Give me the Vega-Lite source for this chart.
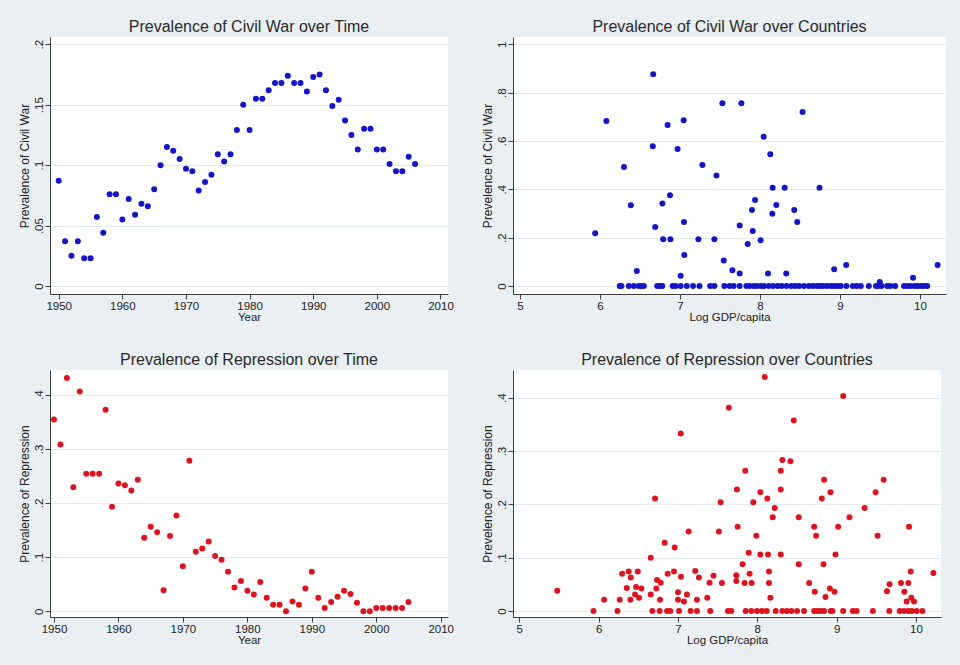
{
  "$schema": "https://vega.github.io/schema/vega-lite/v6.json",
  "background": "#e9eff2",
  "padding": {"left": 18, "top": 19, "right": 14, "bottom": 19},
  "bounds": "flush",
  "align": "each",
  "columns": 2,
  "spacing": {"row": 76, "column": 65},
  "config": {
    "font": "Liberation Sans",
    "view": {"stroke": null, "fill": "white"},
    "title": {"fontSize": 16, "fontWeight": "normal", "color": "#2a2a2a", "offset": 2, "anchor": "middle", "frame": "group"},
    "axis": {"domainColor": "#404040", "tickColor": "#404040", "tickSize": 5, "labelFontSize": 11.5, "labelColor": "#222222", "titleFontSize": 11.5, "titleFontWeight": "normal", "titleColor": "#222222", "grid": false, "labelFlush": false, "labelOverlap": false},
    "axisY": {"grid": true, "gridColor": "#e4ecef", "gridWidth": 1.2, "labelAngle": -90, "labelPadding": 1, "titlePadding": 2, "titleFontSize": 12},
    "axisX": {"labelPadding": 1, "titlePadding": 0}
  },
  "datasets": {
    "cwTime": [
      {"year": 1950, "cw": 0.087}, {"year": 1951, "cw": 0.037}, {"year": 1952, "cw": 0.025}, {"year": 1953, "cw": 0.037},
      {"year": 1954, "cw": 0.023}, {"year": 1955, "cw": 0.023}, {"year": 1956, "cw": 0.057}, {"year": 1957, "cw": 0.044},
      {"year": 1958, "cw": 0.076}, {"year": 1959, "cw": 0.076}, {"year": 1960, "cw": 0.055}, {"year": 1961, "cw": 0.072},
      {"year": 1962, "cw": 0.059}, {"year": 1963, "cw": 0.068}, {"year": 1964, "cw": 0.066}, {"year": 1965, "cw": 0.080},
      {"year": 1966, "cw": 0.100}, {"year": 1967, "cw": 0.115}, {"year": 1968, "cw": 0.112}, {"year": 1969, "cw": 0.105},
      {"year": 1970, "cw": 0.097}, {"year": 1971, "cw": 0.095}, {"year": 1972, "cw": 0.079}, {"year": 1973, "cw": 0.086},
      {"year": 1974, "cw": 0.092}, {"year": 1975, "cw": 0.109}, {"year": 1976, "cw": 0.103}, {"year": 1977, "cw": 0.109},
      {"year": 1978, "cw": 0.129}, {"year": 1979, "cw": 0.150}, {"year": 1980, "cw": 0.129}, {"year": 1981, "cw": 0.155},
      {"year": 1982, "cw": 0.155}, {"year": 1983, "cw": 0.162}, {"year": 1984, "cw": 0.168}, {"year": 1985, "cw": 0.168},
      {"year": 1986, "cw": 0.174}, {"year": 1987, "cw": 0.168}, {"year": 1988, "cw": 0.168}, {"year": 1989, "cw": 0.161},
      {"year": 1990, "cw": 0.173}, {"year": 1991, "cw": 0.175}, {"year": 1992, "cw": 0.162}, {"year": 1993, "cw": 0.149},
      {"year": 1994, "cw": 0.154}, {"year": 1995, "cw": 0.137}, {"year": 1996, "cw": 0.125}, {"year": 1997, "cw": 0.113},
      {"year": 1998, "cw": 0.130}, {"year": 1999, "cw": 0.130}, {"year": 2000, "cw": 0.113}, {"year": 2001, "cw": 0.113},
      {"year": 2002, "cw": 0.101}, {"year": 2003, "cw": 0.095}, {"year": 2004, "cw": 0.095}, {"year": 2005, "cw": 0.107},
      {"year": 2006, "cw": 0.101}
    ],
    "repTime": [
      {"year": 1950, "rep": 0.354}, {"year": 1951, "rep": 0.308}, {"year": 1952, "rep": 0.431}, {"year": 1953, "rep": 0.229},
      {"year": 1954, "rep": 0.406}, {"year": 1955, "rep": 0.254}, {"year": 1956, "rep": 0.254}, {"year": 1957, "rep": 0.254},
      {"year": 1958, "rep": 0.372}, {"year": 1959, "rep": 0.193}, {"year": 1960, "rep": 0.236}, {"year": 1961, "rep": 0.233},
      {"year": 1962, "rep": 0.223}, {"year": 1963, "rep": 0.243}, {"year": 1964, "rep": 0.136}, {"year": 1965, "rep": 0.156},
      {"year": 1966, "rep": 0.146}, {"year": 1967, "rep": 0.039}, {"year": 1968, "rep": 0.139}, {"year": 1969, "rep": 0.177},
      {"year": 1970, "rep": 0.083}, {"year": 1971, "rep": 0.278}, {"year": 1972, "rep": 0.110}, {"year": 1973, "rep": 0.116},
      {"year": 1974, "rep": 0.129}, {"year": 1975, "rep": 0.102}, {"year": 1976, "rep": 0.095}, {"year": 1977, "rep": 0.073},
      {"year": 1978, "rep": 0.044}, {"year": 1979, "rep": 0.056}, {"year": 1980, "rep": 0.038}, {"year": 1981, "rep": 0.031},
      {"year": 1982, "rep": 0.054}, {"year": 1983, "rep": 0.025}, {"year": 1984, "rep": 0.012}, {"year": 1985, "rep": 0.012},
      {"year": 1986, "rep": 0.000}, {"year": 1987, "rep": 0.018}, {"year": 1988, "rep": 0.012}, {"year": 1989, "rep": 0.042},
      {"year": 1990, "rep": 0.073}, {"year": 1991, "rep": 0.025}, {"year": 1992, "rep": 0.006}, {"year": 1993, "rep": 0.017},
      {"year": 1994, "rep": 0.027}, {"year": 1995, "rep": 0.038}, {"year": 1996, "rep": 0.032}, {"year": 1997, "rep": 0.016},
      {"year": 1998, "rep": 0.000}, {"year": 1999, "rep": 0.000}, {"year": 2000, "rep": 0.006}, {"year": 2001, "rep": 0.006},
      {"year": 2002, "rep": 0.006}, {"year": 2003, "rep": 0.006}, {"year": 2004, "rep": 0.006}, {"year": 2005, "rep": 0.017}
    ],
    "cwCountry": [
      {"gdp": 5.94, "cw": 0.218}, {"gdp": 6.08, "cw": 0.683}, {"gdp": 6.30, "cw": 0.492}, {"gdp": 6.385, "cw": 0.334},
      {"gdp": 6.46, "cw": 0.062}, {"gdp": 6.66, "cw": 0.578}, {"gdp": 6.665, "cw": 0.876}, {"gdp": 6.69, "cw": 0.244},
      {"gdp": 6.78, "cw": 0.341}, {"gdp": 6.79, "cw": 0.193}, {"gdp": 6.875, "cw": 0.375}, {"gdp": 6.88, "cw": 0.193},
      {"gdp": 6.845, "cw": 0.666}, {"gdp": 6.97, "cw": 0.567}, {"gdp": 7.046, "cw": 0.686}, {"gdp": 7.05, "cw": 0.265},
      {"gdp": 7.054, "cw": 0.128}, {"gdp": 7.008, "cw": 0.043}, {"gdp": 7.28, "cw": 0.501}, {"gdp": 7.23, "cw": 0.193},
      {"gdp": 7.455, "cw": 0.457}, {"gdp": 7.43, "cw": 0.193}, {"gdp": 7.53, "cw": 0.756}, {"gdp": 7.767, "cw": 0.756},
      {"gdp": 8.532, "cw": 0.72}, {"gdp": 8.046, "cw": 0.617}, {"gdp": 8.129, "cw": 0.545}, {"gdp": 8.158, "cw": 0.406},
      {"gdp": 8.308, "cw": 0.406}, {"gdp": 8.744, "cw": 0.406}, {"gdp": 7.938, "cw": 0.356}, {"gdp": 7.9, "cw": 0.314},
      {"gdp": 8.204, "cw": 0.335}, {"gdp": 8.154, "cw": 0.299}, {"gdp": 8.428, "cw": 0.314}, {"gdp": 8.466, "cw": 0.265},
      {"gdp": 7.746, "cw": 0.25}, {"gdp": 7.909, "cw": 0.228}, {"gdp": 8.008, "cw": 0.189}, {"gdp": 7.846, "cw": 0.174},
      {"gdp": 7.547, "cw": 0.106}, {"gdp": 7.655, "cw": 0.065}, {"gdp": 7.746, "cw": 0.052}, {"gdp": 8.1, "cw": 0.052},
      {"gdp": 8.328, "cw": 0.052}, {"gdp": 8.927, "cw": 0.069}, {"gdp": 9.077, "cw": 0.087}, {"gdp": 9.497, "cw": 0.017},
      {"gdp": 9.913, "cw": 0.034}, {"gdp": 10.22, "cw": 0.087},
      {"gdp": 6.247, "cw": 0}, {"gdp": 6.268, "cw": 0}, {"gdp": 6.36, "cw": 0}, {"gdp": 6.423, "cw": 0}, {"gdp": 6.485, "cw": 0},
      {"gdp": 6.51, "cw": 0}, {"gdp": 6.548, "cw": 0}, {"gdp": 6.715, "cw": 0}, {"gdp": 6.749, "cw": 0}, {"gdp": 6.778, "cw": 0},
      {"gdp": 6.908, "cw": 0}, {"gdp": 6.946, "cw": 0}, {"gdp": 7.008, "cw": 0}, {"gdp": 7.084, "cw": 0}, {"gdp": 7.163, "cw": 0},
      {"gdp": 7.243, "cw": 0}, {"gdp": 7.377, "cw": 0}, {"gdp": 7.43, "cw": 0}, {"gdp": 7.555, "cw": 0}, {"gdp": 7.62, "cw": 0},
      {"gdp": 7.67, "cw": 0}, {"gdp": 7.746, "cw": 0}, {"gdp": 7.83, "cw": 0}, {"gdp": 7.87, "cw": 0}, {"gdp": 7.92, "cw": 0},
      {"gdp": 7.96, "cw": 0}, {"gdp": 8.01, "cw": 0}, {"gdp": 8.05, "cw": 0}, {"gdp": 8.11, "cw": 0}, {"gdp": 8.16, "cw": 0},
      {"gdp": 8.22, "cw": 0}, {"gdp": 8.27, "cw": 0}, {"gdp": 8.33, "cw": 0}, {"gdp": 8.39, "cw": 0}, {"gdp": 8.44, "cw": 0},
      {"gdp": 8.49, "cw": 0}, {"gdp": 8.55, "cw": 0}, {"gdp": 8.61, "cw": 0}, {"gdp": 8.66, "cw": 0}, {"gdp": 8.71, "cw": 0},
      {"gdp": 8.75, "cw": 0}, {"gdp": 8.79, "cw": 0}, {"gdp": 8.84, "cw": 0}, {"gdp": 8.89, "cw": 0}, {"gdp": 8.93, "cw": 0},
      {"gdp": 8.97, "cw": 0}, {"gdp": 9.01, "cw": 0}, {"gdp": 9.08, "cw": 0}, {"gdp": 9.16, "cw": 0}, {"gdp": 9.21, "cw": 0},
      {"gdp": 9.26, "cw": 0}, {"gdp": 9.36, "cw": 0}, {"gdp": 9.45, "cw": 0}, {"gdp": 9.48, "cw": 0}, {"gdp": 9.52, "cw": 0},
      {"gdp": 9.59, "cw": 0}, {"gdp": 9.63, "cw": 0}, {"gdp": 9.69, "cw": 0}, {"gdp": 9.8, "cw": 0}, {"gdp": 9.84, "cw": 0},
      {"gdp": 9.88, "cw": 0}, {"gdp": 9.93, "cw": 0}, {"gdp": 9.97, "cw": 0}, {"gdp": 10.01, "cw": 0}, {"gdp": 10.05, "cw": 0},
      {"gdp": 10.09, "cw": 0}
    ],
    "repCountry": [
      {"gdp": 5.478, "rep": 0.038}, {"gdp": 5.935, "rep": 0}, {"gdp": 6.069, "rep": 0.021}, {"gdp": 6.237, "rep": 0},
      {"gdp": 6.266, "rep": 0.021}, {"gdp": 6.296, "rep": 0.07}, {"gdp": 6.354, "rep": 0.043}, {"gdp": 6.379, "rep": 0.074},
      {"gdp": 6.405, "rep": 0.063}, {"gdp": 6.4, "rep": 0.021}, {"gdp": 6.459, "rep": 0.031}, {"gdp": 6.472, "rep": 0.045},
      {"gdp": 6.493, "rep": 0.074}, {"gdp": 6.509, "rep": 0.025}, {"gdp": 6.539, "rep": 0.042}, {"gdp": 6.656, "rep": 0.1},
      {"gdp": 6.656, "rep": 0.031}, {"gdp": 6.677, "rep": 0}, {"gdp": 6.711, "rep": 0.211}, {"gdp": 6.727, "rep": 0.042},
      {"gdp": 6.736, "rep": 0.058}, {"gdp": 6.769, "rep": 0}, {"gdp": 6.774, "rep": 0.021}, {"gdp": 6.782, "rep": 0.053},
      {"gdp": 6.832, "rep": 0.128}, {"gdp": 6.862, "rep": 0}, {"gdp": 6.87, "rep": 0.07}, {"gdp": 6.904, "rep": 0},
      {"gdp": 6.95, "rep": 0.074}, {"gdp": 6.958, "rep": 0.119}, {"gdp": 7.0, "rep": 0.035}, {"gdp": 7.0, "rep": 0.021},
      {"gdp": 7.013, "rep": 0}, {"gdp": 7.034, "rep": 0.333}, {"gdp": 7.038, "rep": 0.064}, {"gdp": 7.075, "rep": 0.018},
      {"gdp": 7.113, "rep": 0.031}, {"gdp": 7.134, "rep": 0.149}, {"gdp": 7.159, "rep": 0}, {"gdp": 7.218, "rep": 0.075},
      {"gdp": 7.239, "rep": 0}, {"gdp": 7.239, "rep": 0.021}, {"gdp": 7.264, "rep": 0.063}, {"gdp": 7.369, "rep": 0.025},
      {"gdp": 7.398, "rep": 0.053}, {"gdp": 7.407, "rep": 0}, {"gdp": 7.448, "rep": 0.066}, {"gdp": 7.516, "rep": 0.149},
      {"gdp": 7.537, "rep": 0.204}, {"gdp": 7.554, "rep": 0.0525}, {"gdp": 7.629, "rep": 0}, {"gdp": 7.642, "rep": 0.381},
      {"gdp": 7.672, "rep": 0}, {"gdp": 7.735, "rep": 0.056}, {"gdp": 7.735, "rep": 0.067}, {"gdp": 7.743, "rep": 0.228},
      {"gdp": 7.752, "rep": 0.158}, {"gdp": 7.815, "rep": 0.0875}, {"gdp": 7.848, "rep": 0.263}, {"gdp": 7.84, "rep": 0.0525},
      {"gdp": 7.853, "rep": 0}, {"gdp": 7.891, "rep": 0.109}, {"gdp": 7.903, "rep": 0.07}, {"gdp": 7.928, "rep": 0.0525},
      {"gdp": 7.924, "rep": 0}, {"gdp": 7.949, "rep": 0.204}, {"gdp": 7.987, "rep": 0.141}, {"gdp": 7.996, "rep": 0},
      {"gdp": 8.038, "rep": 0.106}, {"gdp": 8.038, "rep": 0.2225}, {"gdp": 8.059, "rep": 0}, {"gdp": 8.093, "rep": 0.439},
      {"gdp": 8.118, "rep": 0}, {"gdp": 8.126, "rep": 0.211}, {"gdp": 8.135, "rep": 0.106}, {"gdp": 8.147, "rep": 0.074},
      {"gdp": 8.147, "rep": 0.0525}, {"gdp": 8.164, "rep": 0.025}, {"gdp": 8.194, "rep": 0.176}, {"gdp": 8.219, "rep": 0.193},
      {"gdp": 8.232, "rep": 0}, {"gdp": 8.295, "rep": 0.263}, {"gdp": 8.295, "rep": 0.228}, {"gdp": 8.295, "rep": 0.106},
      {"gdp": 8.316, "rep": 0.283}, {"gdp": 8.316, "rep": 0}, {"gdp": 8.375, "rep": 0}, {"gdp": 8.417, "rep": 0.281},
      {"gdp": 8.429, "rep": 0}, {"gdp": 8.459, "rep": 0.3575}, {"gdp": 8.501, "rep": 0}, {"gdp": 8.522, "rep": 0.176},
      {"gdp": 8.522, "rep": 0.0875}, {"gdp": 8.589, "rep": 0}, {"gdp": 8.653, "rep": 0.0525}, {"gdp": 8.716, "rep": 0.158},
      {"gdp": 8.716, "rep": 0}, {"gdp": 8.724, "rep": 0.036}, {"gdp": 8.741, "rep": 0.141}, {"gdp": 8.754, "rep": 0},
      {"gdp": 8.796, "rep": 0}, {"gdp": 8.813, "rep": 0.211}, {"gdp": 8.834, "rep": 0.0875}, {"gdp": 8.842, "rep": 0.246},
      {"gdp": 8.842, "rep": 0}, {"gdp": 8.859, "rep": 0.026}, {"gdp": 8.914, "rep": 0.042}, {"gdp": 8.922, "rep": 0.2225},
      {"gdp": 8.926, "rep": 0}, {"gdp": 8.947, "rep": 0}, {"gdp": 8.973, "rep": 0.036}, {"gdp": 8.985, "rep": 0.106},
      {"gdp": 9.019, "rep": 0.158}, {"gdp": 9.082, "rep": 0.403}, {"gdp": 9.082, "rep": 0}, {"gdp": 9.162, "rep": 0.176},
      {"gdp": 9.204, "rep": 0}, {"gdp": 9.251, "rep": 0}, {"gdp": 9.352, "rep": 0.193}, {"gdp": 9.457, "rep": 0},
      {"gdp": 9.491, "rep": 0.2225}, {"gdp": 9.516, "rep": 0.141}, {"gdp": 9.592, "rep": 0.246}, {"gdp": 9.634, "rep": 0.037},
      {"gdp": 9.663, "rep": 0}, {"gdp": 9.667, "rep": 0.05}, {"gdp": 9.794, "rep": 0}, {"gdp": 9.811, "rep": 0.0525},
      {"gdp": 9.853, "rep": 0.036}, {"gdp": 9.882, "rep": 0.018}, {"gdp": 9.903, "rep": 0.0525}, {"gdp": 9.912, "rep": 0.158},
      {"gdp": 9.933, "rep": 0.074}, {"gdp": 9.941, "rep": 0.025}, {"gdp": 9.975, "rep": 0.018}, {"gdp": 9.848, "rep": 0},
      {"gdp": 9.903, "rep": 0}, {"gdp": 9.945, "rep": 0}, {"gdp": 10.008, "rep": 0}, {"gdp": 10.08, "rep": 0},
      {"gdp": 10.219, "rep": 0.071}
    ]
  },
  "concat": [
    {
      "width": 398, "height": 257,
      "title": "Prevalence of Civil War over Time",
      "data": {"name": "cwTime"},
      "mark": {"type": "circle", "size": 36, "opacity": 1, "color": "#1515c8"},
      "encoding": {
        "x": {"field": "year", "type": "quantitative", "scale": {"domain": [1948.63, 2011.18], "nice": false, "zero": false},
              "axis": {"values": [1950, 1960, 1970, 1980, 1990, 2000, 2010], "format": "d", "title": "Year"}},
        "y": {"field": "cw", "type": "quantitative", "scale": {"domain": [-0.0066, 0.206], "nice": false},
              "axis": {"values": [0, 0.05, 0.1, 0.15, 0.2], "title": "Prevalence of Civil War",
                       "labelExpr": "datum.value == 0 ? '0' : datum.value >= 1 ? '1' : replace(format(datum.value, '~g'), '0.', '.')"}}
      }
    },
    {
      "width": 433, "height": 257,
      "title": "Prevalence of Civil War over Countries",
      "data": {"name": "cwCountry"},
      "mark": {"type": "circle", "size": 36, "opacity": 1, "color": "#1515c8"},
      "encoding": {
        "x": {"field": "gdp", "type": "quantitative", "scale": {"domain": [4.9125, 10.325], "nice": false, "zero": false},
              "axis": {"values": [5, 6, 7, 8, 9, 10], "format": "d", "title": "Log GDP/capita"}},
        "y": {"field": "cw", "type": "quantitative", "scale": {"domain": [-0.033, 1.03], "nice": false},
              "axis": {"values": [0, 0.2, 0.4, 0.6, 0.8, 1], "title": "Prevelence of Civil War",
                       "labelExpr": "datum.value == 0 ? '0' : datum.value >= 1 ? '1' : replace(format(datum.value, '~g'), '0.', '.')"}}
      }
    },
    {
      "width": 398, "height": 247,
      "title": "Prevalence of Repression over Time",
      "data": {"name": "repTime"},
      "mark": {"type": "circle", "size": 36, "opacity": 1, "color": "#dc1420"},
      "encoding": {
        "x": {"field": "year", "type": "quantitative", "scale": {"domain": [1949.38, 2011.13], "nice": false, "zero": false},
              "axis": {"values": [1950, 1960, 1970, 1980, 1990, 2000, 2010], "format": "d", "title": "Year"}},
        "y": {"field": "rep", "type": "quantitative", "scale": {"domain": [-0.0105, 0.4456], "nice": false},
              "axis": {"values": [0, 0.1, 0.2, 0.3, 0.4], "title": "Prevalence of Repression",
                       "labelExpr": "datum.value == 0 ? '0' : datum.value >= 1 ? '1' : replace(format(datum.value, '~g'), '0.', '.')"}}
      }
    },
    {
      "width": 428, "height": 247,
      "title": "Prevalence of Repression over Countries",
      "data": {"name": "repCountry"},
      "mark": {"type": "circle", "size": 36, "opacity": 1, "color": "#dc1420"},
      "encoding": {
        "x": {"field": "gdp", "type": "quantitative", "scale": {"domain": [4.9206, 10.315], "nice": false, "zero": false},
              "axis": {"values": [5, 6, 7, 8, 9, 10], "format": "d", "title": "Log GDP/capita"}},
        "y": {"field": "rep", "type": "quantitative", "scale": {"domain": [-0.0113, 0.452], "nice": false},
              "axis": {"values": [0, 0.1, 0.2, 0.3, 0.4], "title": "Prevelence of Repression",
                       "labelExpr": "datum.value == 0 ? '0' : datum.value >= 1 ? '1' : replace(format(datum.value, '~g'), '0.', '.')"}}
      }
    }
  ]
}
